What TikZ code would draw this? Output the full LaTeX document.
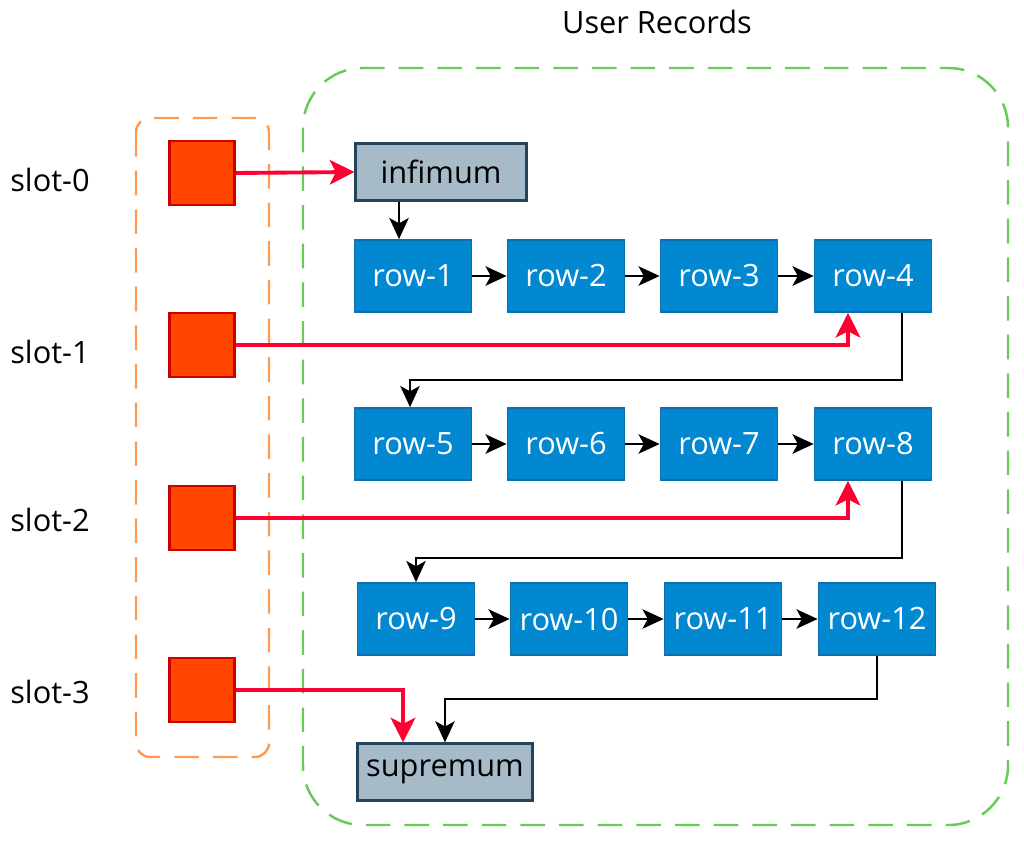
\documentclass[tikz,border=0pt]{standalone}
\usepackage{fontspec}
\setmainfont{Open Sans}
\usetikzlibrary{arrows.meta}
\definecolor{slotfill}{RGB}{255,69,0}
\definecolor{slotline}{RGB}{204,0,0}
\definecolor{rowfill}{RGB}{2,136,209}
\definecolor{rowline}{RGB}{16,110,175}
\definecolor{boundfill}{RGB}{167,186,200}
\definecolor{boundline}{RGB}{35,68,93}
\definecolor{pointer}{RGB}{255,0,51}
\definecolor{dirline}{RGB}{255,154,80}
\definecolor{recline}{RGB}{102,204,85}
\begin{document}
\begin{tikzpicture}[x=0.02cm, y=-0.02cm, font=\fontsize{17.5}{20}\selectfont]
        \tikzset{
            slotbox/.style={draw=slotline, fill=slotfill, line width=1.5pt,
                minimum width=1.3cm, minimum height=1.28cm, inner sep=0pt},
            rowbox/.style={draw=rowline, fill=rowfill, line width=1pt, text=white,
                minimum width=2.34cm, minimum height=1.44cm, inner sep=0pt},
            boundbox/.style={draw=boundline, fill=boundfill, line width=1.3pt,
                minimum height=1.14cm, inner sep=0pt},
            group/.style={dashed, dash pattern=on 14pt off 8pt, line width=1.4pt},
            link/.style={-{Stealth[length=12pt, width=11pt, inset=3pt]}, line width=1.4pt},
            ptr/.style={-{Stealth[length=14pt, width=14pt, inset=3.5pt]}, draw=pointer, line width=2.2pt}
        }

        \useasboundingbox (0,0) rectangle (1024,841);

        \draw[group, draw=dirline, rounded corners=8pt] (136,118) rectangle (269,757);
        \draw[group, draw=recline, rounded corners=34pt] (303,68) rectangle (1008,825);
        \node (title) at (657,22) {User Records};

        \node[slotbox] (s0) at (202,173) {};
        \node[slotbox] (s1) at (202,345) {};
        \node[slotbox] (s2) at (202,518) {};
        \node[slotbox] (s3) at (202,690) {};
        \node (l0) at (50,180) {slot-0};
        \node (l1) at (50,352) {slot-1};
        \node (l2) at (50,520) {slot-2};
        \node (l3) at (50,692) {slot-3};

        \node[boundbox, minimum width=3.42cm] (inf) at (441,172) {infimum};
        \node[boundbox, minimum width=3.5cm] (sup) at (445,772) {supremum};

        \node[rowbox] (r1) at (413,276) {row-1};
        \node[rowbox] (r2) at (566,276) {row-2};
        \node[rowbox] (r3) at (719,276) {row-3};
        \node[rowbox] (r4) at (873,276) {row-4};
        \node[rowbox] (r5) at (413,444) {row-5};
        \node[rowbox] (r6) at (566,444) {row-6};
        \node[rowbox] (r7) at (719,444) {row-7};
        \node[rowbox] (r8) at (873,444) {row-8};
        \node[rowbox] (r9) at (416,619) {row-9};
        \node[rowbox] (r10) at (569,619) {row-10};
        \node[rowbox] (r11) at (723,619) {row-11};
        \node[rowbox] (r12) at (877,619) {row-12};

        \draw[link] ([xshift=-0.84cm]inf.south) -- ([xshift=-0.84cm]inf.south |- r1.north);
        \foreach \a/\b in {r1/r2, r2/r3, r3/r4, r5/r6, r6/r7, r7/r8, r9/r10, r10/r11, r11/r12}
            \draw[link] (\a.east) -- (\b.west);
        \draw[link] ([xshift=0.58cm]r4.south) -- ++(0,67) -| ([xshift=-0.06cm]r5.north);
        \draw[link] ([xshift=0.58cm]r8.south) -- ++(0,77) -| (r9.north);
        \draw[link] (r12.south) -- ++(0,43) -| (sup.north);

        \draw[ptr] (s0.east) -- (inf.west);
        \draw[ptr] (s1.east) -| ([xshift=-0.5cm]r4.south);
        \draw[ptr] (s2.east) -| ([xshift=-0.5cm]r8.south);
        \draw[ptr] (s3.east) -| ([xshift=-0.84cm]sup.north);
    \end{tikzpicture}
\end{document}
